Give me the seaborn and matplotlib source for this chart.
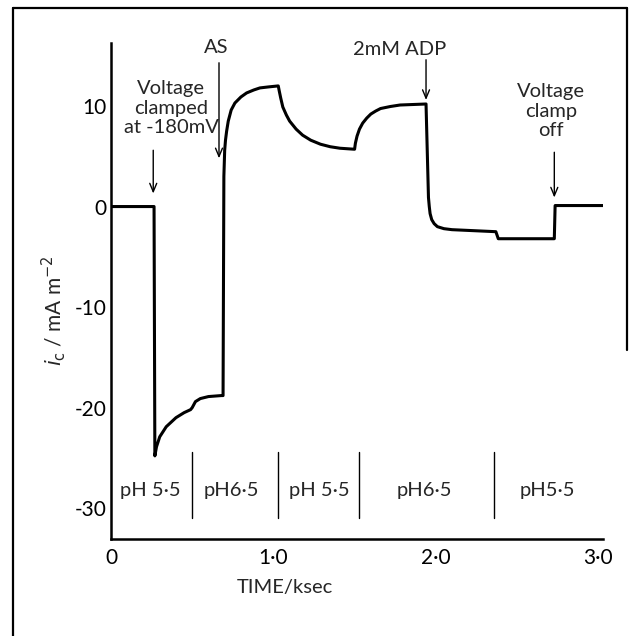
import matplotlib
matplotlib.use("Agg")
import matplotlib.pyplot as plt
import matplotlib.lines as mlines
import seaborn as sns
import pandas as pd

# Clamp current trace (time in ksec, current in mA m^-2)
time_ks = [0.00, 0.265, 0.27, 0.28, 0.30, 0.34, 0.40, 0.45, 0.49, 0.50, 0.52, 0.55, 0.60, 0.68,
           0.69, 0.695, 0.70, 0.705, 0.712, 0.722, 0.74, 0.763, 0.80, 0.835, 0.88, 0.917, 0.97, 1.03,
           1.036, 1.045, 1.058, 1.08, 1.10, 1.14, 1.18, 1.23, 1.29, 1.35, 1.41, 1.50,
           1.505, 1.515, 1.53, 1.55, 1.575, 1.60, 1.63, 1.66, 1.72, 1.78, 1.86, 1.94,
           1.955, 1.96, 1.965, 1.975, 1.99, 2.01, 2.05, 2.10, 2.37, 2.385, 2.73, 2.735, 3.03]
current = [0.0, 0.0, -24.8, -23.9, -22.9, -21.9, -21.0, -20.5, -20.2, -20.0, -19.4, -19.1, -18.9, -18.8,
           -18.8, 3.0, 5.6, 6.6, 7.5, 8.5, 9.6, 10.3, 10.9, 11.3, 11.6, 11.8, 11.9, 12.0,
           11.5, 10.8, 9.9, 9.1, 8.5, 7.7, 7.1, 6.6, 6.2, 5.95, 5.8, 5.7,
           6.3, 7.0, 7.7, 8.3, 8.8, 9.2, 9.5, 9.75, 9.95, 10.1, 10.15, 10.2,
           0.9, 0.0, -0.7, -1.3, -1.7, -2.0, -2.2, -2.3, -2.5, -3.2, -3.2, 0.1, 0.1]

# Solution changes along the bottom
ph_bounds = [0.50, 1.03, 1.53, 2.36]
ph_labels = ["pH 5·5", "pH6·5", "pH 5·5", "pH6·5", "pH5·5"]
ph_label_x = [0.24, 0.74, 1.28, 1.93, 2.69]

# Event annotations: (text, arrow x, arrow tail y, arrow tip y, text x, text y)
events = [
    ("Voltage\nclamped\nat -180mV", 0.26, 5.6, 1.3, 0.37, 9.8),
    ("AS", 0.665, 14.3, 4.8, 0.645, 15.8),
    ("2mM ADP", 1.94, 14.6, 10.6, 1.78, 15.6),
    ("Voltage\nclamp\noff", 2.73, 5.4, 0.9, 2.71, 9.5),
]

y_ticks = [-30, -20, -10, 0, 10]
y_tick_labels = ["-30", "-20", "-10", "0", "10"]
x_ticks = [0, 1, 2, 3]
x_tick_labels = ["0", "1·0", "2·0", "3·0"]

sns.set_style("white")
plt.rcParams["font.family"] = ["Lato", "DejaVu Sans"]
plt.rcParams["mathtext.fontset"] = "dejavusans"

FS = 14.5

fig = plt.figure(figsize=(6.29, 6.36), dpi=100)
ax = fig.add_axes([0.1765, 0.152, 0.7822, 0.7809])

df = pd.DataFrame({"t": time_ks, "i": current})
sns.lineplot(data=df, x="t", y="i", ax=ax, color="black", linewidth=2.2,
             estimator=None, sort=False)

for xb in ph_bounds:
    ax.plot([xb, xb], [-24.4, -31.0], color="black", linewidth=1.0)
for lab, xl in zip(ph_labels, ph_label_x):
    ax.text(xl, -28.2, lab, ha="center", va="center", fontsize=FS)

for txt, ax_x, y0, y1, tx, ty in events:
    ax.annotate("", xy=(ax_x, y1), xytext=(ax_x, y0),
                arrowprops=dict(arrowstyle="->,head_length=0.6,head_width=0.25",
                                color="black", lw=1.0, shrinkA=0, shrinkB=0))
    ax.text(tx, ty, txt, ha="center", va="center", fontsize=FS, linespacing=1.2)

ax.set_xlim(0, 3.03)
ax.set_ylim(-33.1, 16.3)
ax.set_xticks(x_ticks)
ax.set_xticklabels(x_tick_labels)
ax.set_yticks(y_ticks)
ax.set_yticklabels(y_tick_labels)
ax.tick_params(direction="in", length=5, width=1.5, labelsize=15, color="black",
               labelcolor="black")
ax.tick_params(axis="x", pad=6)
ax.tick_params(axis="y", pad=3)
ax.set_xlabel("")
ax.set_ylabel("")

for side in ["top", "right"]:
    ax.spines[side].set_visible(False)
for side in ["left", "bottom"]:
    ax.spines[side].set_color("black")
    ax.spines[side].set_linewidth(1.8)

ax.text(0.354, -0.098, "TIME/ksec", transform=ax.transAxes, ha="center",
        va="center", fontsize=FS)
ax.text(-0.117, 0.46, r"$i_{\rm c}$ / mA m$^{-2}$", transform=ax.transAxes,
        ha="center", va="center", rotation=90, fontsize=15)

# Frame around the figure panel
W, H = 629, 636
def fx(p): return p / W
def fy(p): return 1 - p / H
frame_kw = dict(color="black", linewidth=1.6, transform=fig.transFigure)
fig.add_artist(mlines.Line2D([fx(13), fx(13)], [fy(8), fy(636)], **frame_kw))
fig.add_artist(mlines.Line2D([fx(13), fx(627)], [fy(8), fy(8)], **frame_kw))
fig.add_artist(mlines.Line2D([fx(627), fx(627)], [fy(8), fy(350)], **frame_kw))

fig.savefig("out.png", dpi=100)
